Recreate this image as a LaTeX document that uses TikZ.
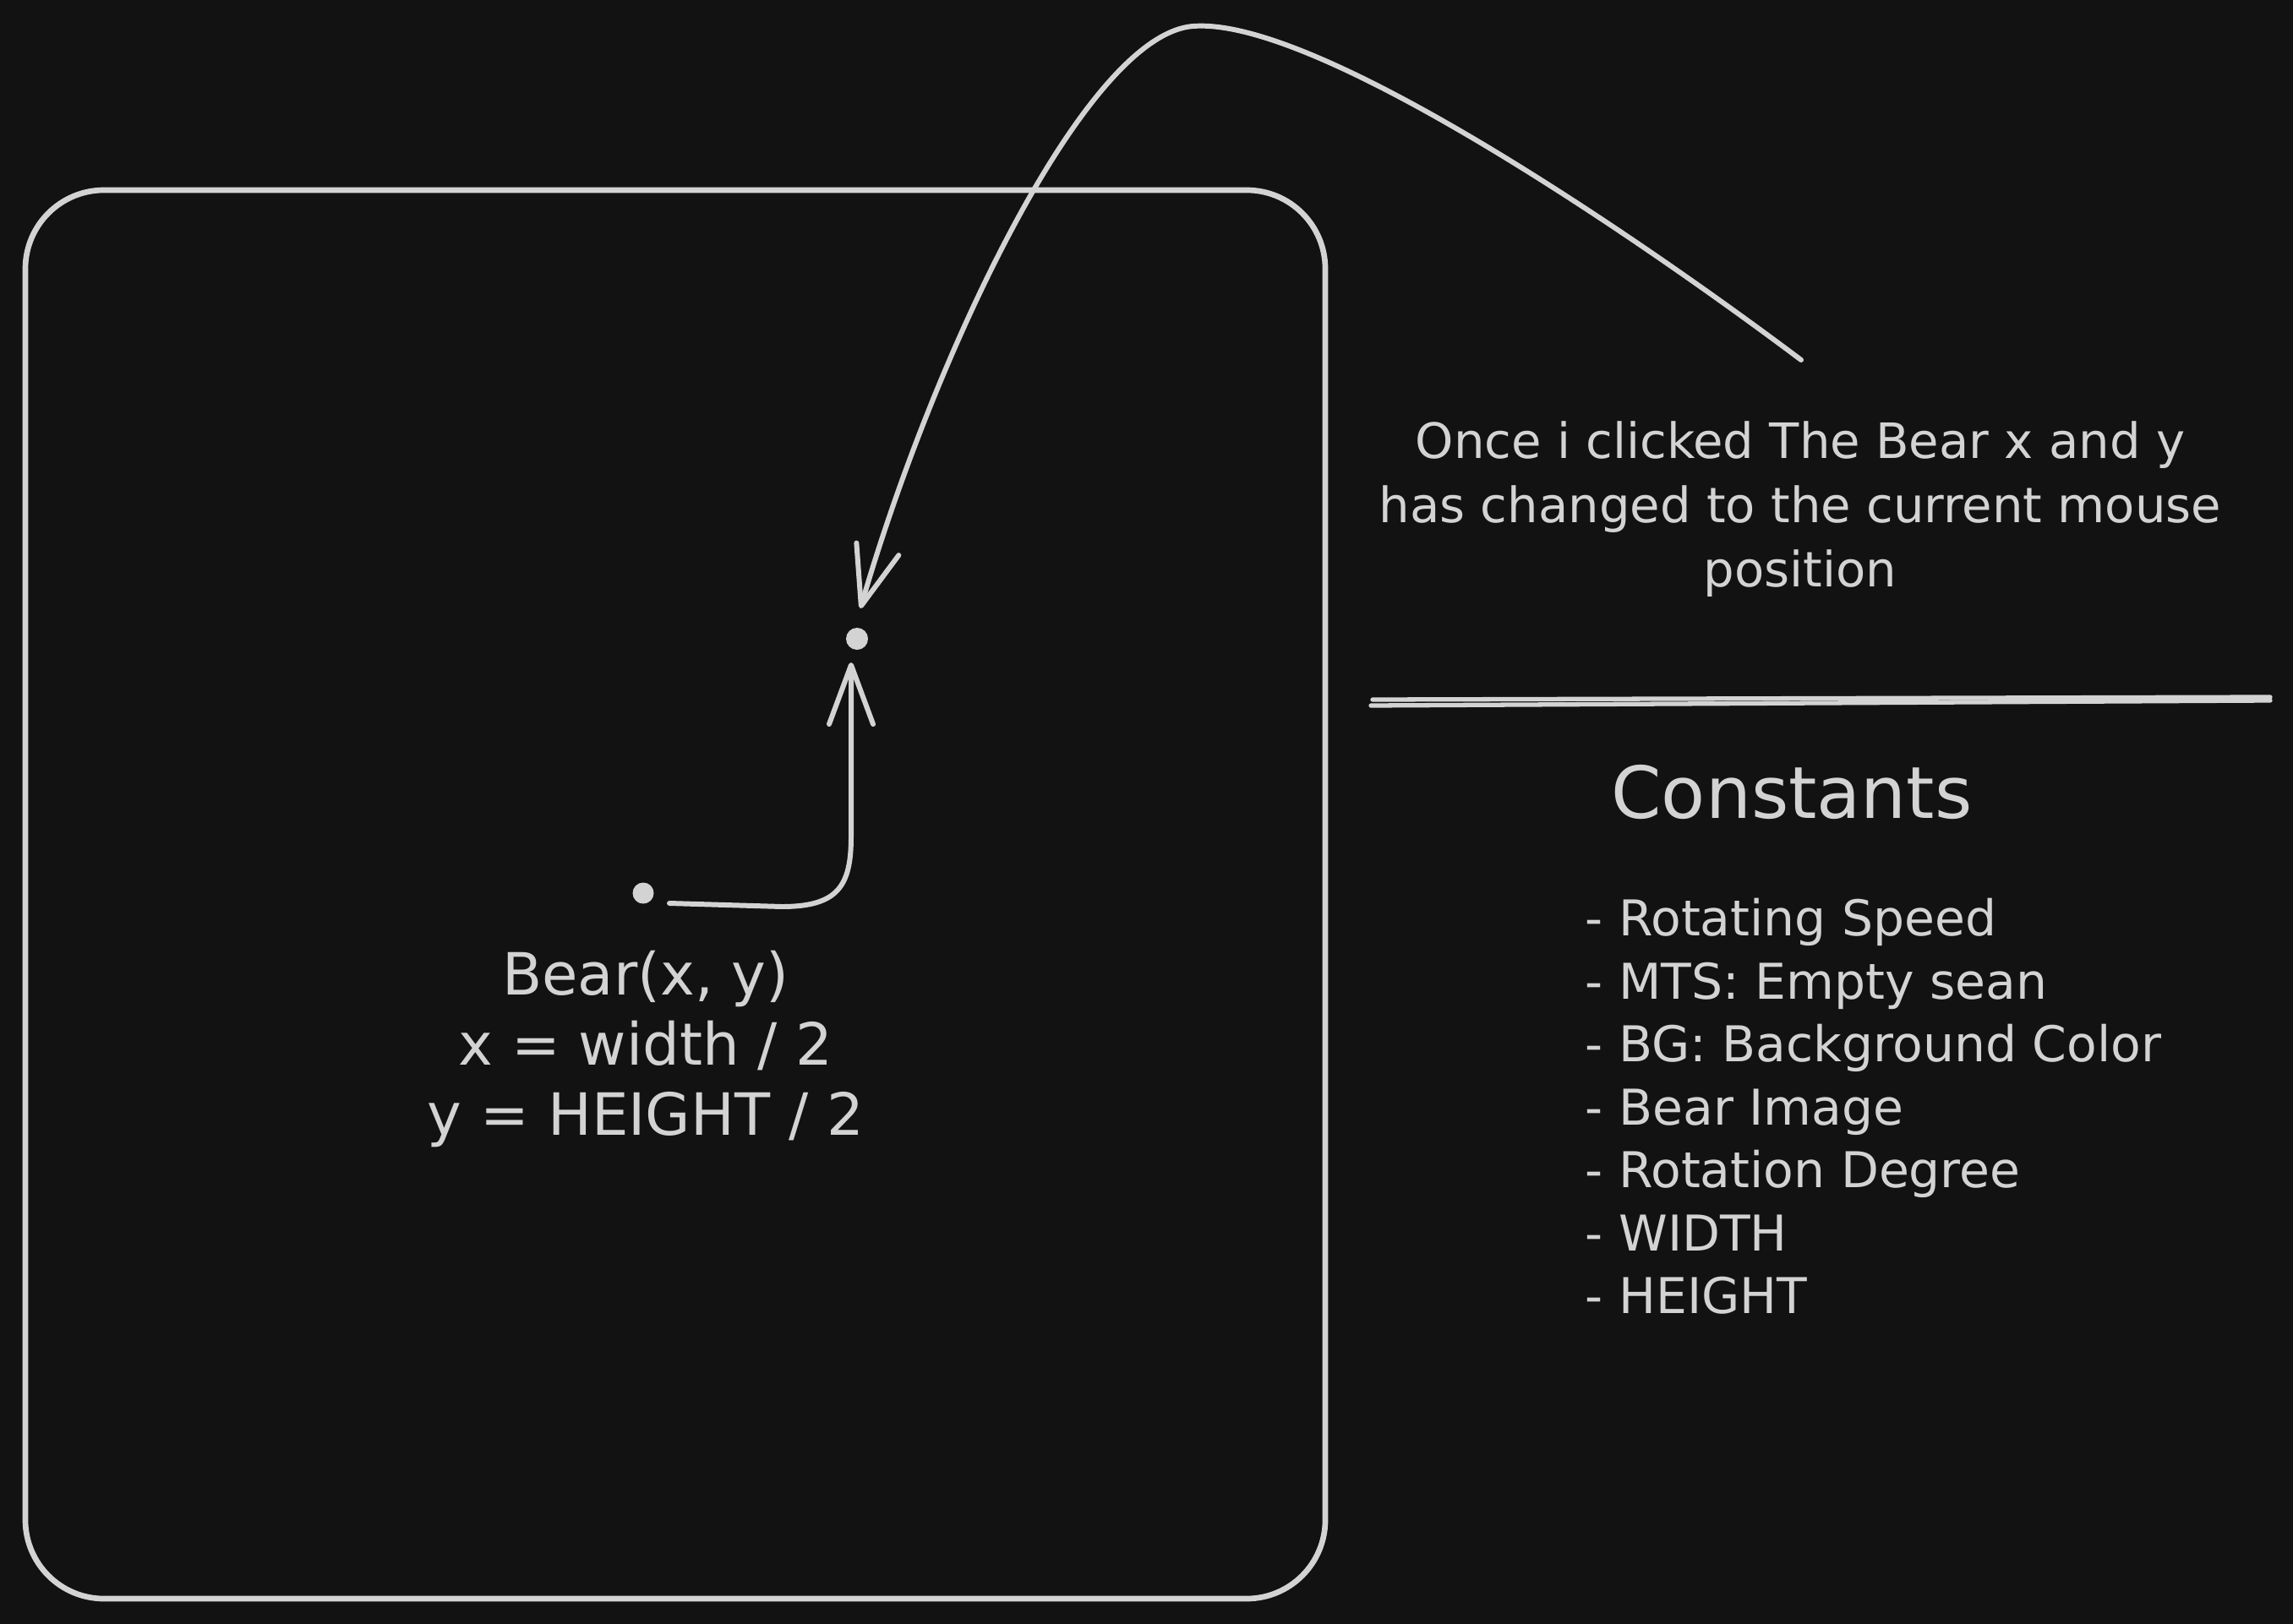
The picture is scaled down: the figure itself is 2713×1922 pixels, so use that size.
\documentclass[tikz,border=0pt]{standalone}
\usepackage{fontspec}
\setmainfont{DejaVu Sans}
\usetikzlibrary{arrows.meta}
\definecolor{bgc}{HTML}{121212}
\definecolor{ink}{HTML}{D3D3D3}
\begin{document}
\begin{tikzpicture}[x=0.01cm,y=-0.01cm,
  stroke/.style={draw=ink, line width=1.9pt, line cap=round, line join=round},
  divline/.style={draw=ink, line width=1.5pt, line cap=round},
  conn/.style={draw=ink, line width=1.7pt, line cap=round, line join=round,
    -{Straight Barb[length=0.7cm,width=0.52cm,round]}},
  dotnode/.style={circle, fill=ink, draw=none, inner sep=0pt, minimum size=0.25cm},
  txt/.style={text=ink, inner sep=0pt, font=\fontsize{16.4pt}{19pt}\selectfont},
  listtxt/.style={text=ink, inner sep=0pt, anchor=base west, font=\fontsize{16.6pt}{19pt}\selectfont},
  titletxt/.style={text=ink, inner sep=0pt, font=\fontsize{24.2pt}{28pt}\selectfont},
  beartxt/.style={text=ink, inner sep=0pt, font=\fontsize{19.6pt}{23pt}\selectfont}
]
\useasboundingbox (0,0) rectangle (2713,1922);
\fill[bgc] (0,0) rectangle (2713,1922);

% canvas frame
\draw[stroke, rounded corners=0.93cm] (30,225) rectangle (1568,1892);

% divider
\draw[divline] (1624,828) -- (2686,825);
\draw[divline] (1622,835) -- (2686,829);

% dots
\node[dotnode] (dot1) at (761,1057) {};
\node[dotnode, minimum size=0.26cm] (dot2) at (1014,756) {};

% texts
\node[txt, anchor=base] (once1) at (2130,543) {Once i clicked The Bear x and y};
\node[txt, anchor=base] (once2) at (2130,619) {has changed to the current mouse};
\node[txt, anchor=base] (once3) at (2130,694) {position};

\node[titletxt, anchor=base] (const) at (2120,968) {Constants};

\node[listtxt] (c1) at (1875,1107) {- Rotating Speed};
\node[listtxt] (c2) at (1875,1182) {- MTS: Empty sean};
\node[listtxt] (c3) at (1875,1256) {- BG: Background Color};
\node[listtxt] (c4) at (1875,1331) {- Bear Image};
\node[listtxt] (c5) at (1875,1405) {- Rotation Degree};
\node[listtxt] (c6) at (1875,1480) {- WIDTH};
\node[listtxt] (c7) at (1875,1554) {- HEIGHT};

\node[beartxt, anchor=base] (b1) at (764,1177) {Bear(x, y)};
\node[beartxt, anchor=base] (b2) at (764,1260) {x = width / 2};
\node[beartxt, anchor=base] (b3) at (764,1343) {y = HEIGHT / 2};

% arrow ends
\coordinate (a1s) at (792,1069);
\coordinate (a1e) at (1007,784);
\coordinate (a2s) at (2131,426);
\coordinate (a2e) at (1018,720);

% connectors
\draw[conn] (a1s) -- (925,1073) .. controls (992,1073) and (1007,1048) .. (1007,990) -- (a1e);
\draw[conn] (a2s) .. controls (1950,290) and (1560,20) .. (1412,31)
  .. controls (1285,40) and (1105,420) .. (a2e);
\end{tikzpicture}
\end{document}
